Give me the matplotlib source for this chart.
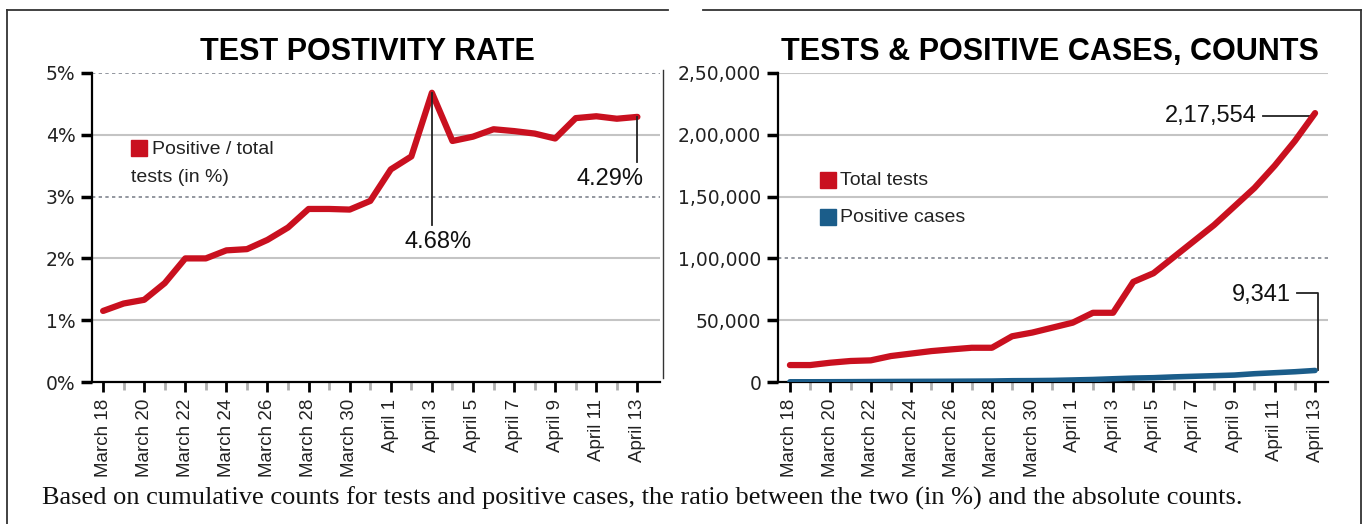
import matplotlib
matplotlib.use("Agg")
import matplotlib.pyplot as plt
from matplotlib.lines import Line2D
import numpy as np

# Data: March 18 .. April 13 (daily)
dates = ['March 18', 'March 19', 'March 20', 'March 21', 'March 22', 'March 23', 'March 24',
         'March 25', 'March 26', 'March 27', 'March 28', 'March 29', 'March 30', 'March 31',
         'April 1', 'April 2', 'April 3', 'April 4', 'April 5', 'April 6', 'April 7',
         'April 8', 'April 9', 'April 10', 'April 11', 'April 12', 'April 13']
positivity = [1.15, 1.27, 1.33, 1.6, 2.0, 2.0, 2.13, 2.15, 2.3, 2.5, 2.8, 2.8, 2.79, 2.93,
              3.44, 3.65, 4.68, 3.9, 3.97, 4.09, 4.06, 4.02, 3.94, 4.27, 4.3, 4.26, 4.29]
total_tests = [13700, 13700, 15600, 17000, 17500, 21000, 23000, 25000, 26400, 27700, 27700,
               37000, 40000, 44000, 48000, 56000, 56000, 81000, 88000, 101000, 114000,
               127000, 142000, 157000, 175000, 195000, 217554]
positive_cases = [160, 175, 210, 270, 350, 420, 490, 540, 610, 690, 780, 1040, 1120, 1290,
                  1650, 2040, 2620, 3160, 3490, 4130, 4630, 5100, 5600, 6700, 7500, 8300, 9341]

pct_ticks = [0, 1, 2, 3, 4, 5]
pct_labels = ['0%', '1%', '2%', '3%', '4%', '5%']
count_ticks = [0, 50000, 100000, 150000, 200000, 250000]
count_labels = ['0', '50,000', '1,00,000', '1,50,000', '2,00,000', '2,50,000']

RED = '#c9101f'
BLUE = '#1b5d8a'
GRID = '#c4c4c4'
x = np.arange(len(dates))

W, H = 1367, 524
fig = plt.figure(figsize=(W / 100, H / 100), dpi=100)
ax1 = fig.add_axes([92 / W, 1 - 382 / H, 568 / W, 309 / H])
ax2 = fig.add_axes([778 / W, 1 - 382 / H, 550 / W, 309 / H])


def indian(n):
    s = str(n)
    if len(s) <= 3:
        return s
    head, tail = s[:-3], s[-3:]
    parts = []
    while len(head) > 2:
        parts.insert(0, head[-2:])
        head = head[:-2]
    if head:
        parts.insert(0, head)
    return ','.join(parts + [tail])


def style_axis(ax, yticks, ylabels, dotted, ymax, xlim):
    ax.set_xlim(*xlim)
    ax.set_ylim(0, ymax)
    for s in ['top', 'right']:
        ax.spines[s].set_visible(False)
    ax.spines['left'].set_linewidth(1.6)
    ax.spines['bottom'].set_linewidth(1.6)
    for t in yticks[1:]:
        if t in dotted:
            ax.axhline(t, color='#80858f', lw=1.2, ls=(0, (2, 2)), zorder=0)
        else:
            ax.axhline(t, color=GRID, lw=1.5, zorder=0)
    ax.set_yticks(yticks)
    ax.set_yticklabels(ylabels, family='DejaVu Sans', fontsize=13.5, color='#222222')
    ax.tick_params(axis='y', length=8, width=2.5, pad=4)
    ax.set_xticks(x[::2])
    ax.set_xticklabels(dates[::2], rotation=90, family='Liberation Sans', fontsize=13.5,
                       color='#222222')
    ax.set_xticks(x[1::2], minor=True)
    ax.tick_params(axis='x', which='major', length=7, width=2, pad=5)
    ax.tick_params(axis='x', which='minor', length=6, width=2, color='#b0b0b0')


style_axis(ax1, pct_ticks, pct_labels, [3, 5], 5, (-0.54, 27.1))
style_axis(ax2, count_ticks, count_labels, [100000], 250000, (-0.59, 26.64))

NUM = dict(family='Liberation Sans', fontsize=17, color='#111111')

# Left: positivity rate
ax1.plot(x, positivity, color=RED, lw=4.5, solid_capstyle='round', zorder=3)
peak = int(np.argmax(positivity))
ax1.plot([x[peak], x[peak]], [positivity[peak], 2.54], color='#222222', lw=1.3, zorder=4)
ax1.text(x[peak] + 0.3, 2.45, f'{positivity[peak]:.2f}%', ha='center', va='top', **NUM)
ax1.plot([x[-1], x[-1]], [positivity[-1], 3.56], color='#222222', lw=1.3, zorder=4)
ax1.text(x[-1] + 0.3, 3.46, f'{positivity[-1]:.2f}%', ha='right', va='top', **NUM)

LEG = dict(family='Liberation Sans', fontsize=14, color='#222222')
ax1.plot([0.083], [0.757], 's', color=RED, ms=11.5, transform=ax1.transAxes, clip_on=False)
ax1.text(0.106, 0.752, 'Positive / total', transform=ax1.transAxes, va='center', **LEG)
ax1.text(0.069, 0.662, 'tests (in %)', transform=ax1.transAxes, va='center', **LEG)

# Right: counts
ax2.plot(x, total_tests, color=RED, lw=4.5, solid_capstyle='round', zorder=3)
ax2.plot(x, positive_cases, color=BLUE, lw=4, solid_capstyle='round', zorder=3)

ax2.plot([23.4, 25.8], [total_tests[-1] - 2500] * 2, color='#222222', lw=1.3)
ax2.text(23.1, total_tests[-1] - 2500, indian(total_tests[-1]), ha='right', va='center', **NUM)
ax2.plot([25.1, 26.15, 26.15], [72000, 72000, positive_cases[-1]], color='#222222', lw=1.3)
ax2.text(24.8, 70000, indian(positive_cases[-1]), ha='right', va='center', **NUM)

ax2.plot([0.091], [0.654], 's', color=RED, ms=11.5, transform=ax2.transAxes, clip_on=False)
ax2.text(0.113, 0.652, 'Total tests', transform=ax2.transAxes, va='center', **LEG)
ax2.plot([0.091], [0.534], 's', color=BLUE, ms=11.5, transform=ax2.transAxes, clip_on=False)
ax2.text(0.113, 0.532, 'Positive cases', transform=ax2.transAxes, va='center', **LEG)

# Titles and footer
TITLE = dict(ha='center', va='center', family='Liberation Sans', fontweight='bold', fontsize=22)
fig.text(367 / W, 1 - 52 / H, 'TEST POSTIVITY RATE', **TITLE)
fig.text(1050 / W, 1 - 52 / H, 'TESTS & POSITIVE CASES, COUNTS', **TITLE)
fig.text(42 / W, 1 - 505 / H,
         'Based on cumulative counts for tests and positive cases, the ratio between the two '
         '(in %) and the absolute counts.',
         ha='left', va='baseline', family='Liberation Serif', fontsize=19, color='#111111')


# Frame lines
def fline(xs, ys, lw=1.3):
    fig.add_artist(Line2D([v / W for v in xs], [1 - v / H for v in ys],
                          color='#333333', lw=lw))


fline([7, 7], [10, 524])
fline([1361, 1361], [10, 524])
fline([7, 668], [10, 10])
fline([703, 1361], [10, 10])
fline([663, 663], [70, 378], lw=1.0)

fig.savefig('out.png', dpi=100)
